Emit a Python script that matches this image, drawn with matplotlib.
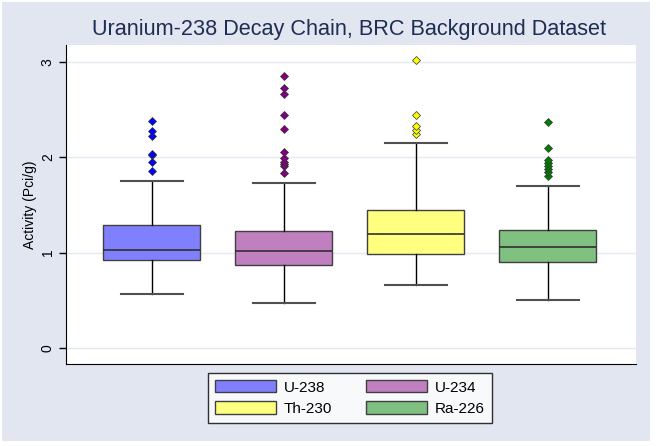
import matplotlib
matplotlib.use("Agg")
import matplotlib.pyplot as plt
from matplotlib.patches import Patch, Rectangle

plt.rcParams['font.family'] = ['Liberation Sans', 'DejaVu Sans']

# ---- data ----
isotopes = ["U-238", "U-234", "Th-230", "Ra-226"]
q1 = [0.92, 0.87, 0.99, 0.90]
medians = [1.03, 1.02, 1.20, 1.06]
q3 = [1.29, 1.23, 1.45, 1.24]
whisker_low = [0.57, 0.47, 0.66, 0.50]
whisker_high = [1.75, 1.73, 2.15, 1.70]
outliers = [
    [1.86, 1.95, 2.02, 2.04, 2.22, 2.28, 2.38],
    [1.84, 1.91, 1.93, 1.95, 1.99, 2.06, 2.30, 2.44, 2.67, 2.73, 2.85],
    [2.25, 2.29, 2.33, 2.44, 3.02],
    [1.80, 1.85, 1.88, 1.91, 1.94, 1.97, 2.10, 2.37],
]
y_ticks = [0, 1, 2, 3]

box_colors = ["#8080FF", "#C080C0", "#FFFF80", "#80C080"]
point_colors = ["#0000FF", "#800080", "#FFFF00", "#008000"]
bg = "#E1E6F0"

fig = plt.figure(figsize=(6.58, 4.46), dpi=100)
fig.patch.set_facecolor("white")
fig.patches.append(Rectangle((2 / 658, 1 - 441 / 446), 648 / 658, 439 / 446,
                             transform=fig.transFigure, facecolor=bg,
                             edgecolor="none", zorder=-10))

ax = fig.add_axes([66 / 658, 1 - 364 / 446, 570 / 658, 319 / 446])
ax.set_facecolor("white")

positions = list(range(1, len(isotopes) + 1))
stats = []
for i, name in enumerate(isotopes):
    stats.append(dict(label=name, med=medians[i], q1=q1[i], q3=q3[i],
                      whislo=whisker_low[i], whishi=whisker_high[i],
                      fliers=outliers[i]))

ax.set_axisbelow(True)
ax.yaxis.grid(True, color="#E4E8F0", linewidth=1.0)

for i in range(len(isotopes)):
    ax.bxp([stats[i]], positions=[positions[i]], widths=0.735,
           patch_artist=True, capwidths=0.47,
           boxprops=dict(facecolor=box_colors[i], edgecolor="#404040", linewidth=1.0),
           medianprops=dict(color="#303030", linewidth=1.2),
           whiskerprops=dict(color="black", linewidth=1.0),
           capprops=dict(color="#505050", linewidth=1.5),
           flierprops=dict(marker="D", markersize=4.0, markerfacecolor=point_colors[i],
                           markeredgecolor="#333333", markeredgewidth=0.5,
                           linestyle="none"))

ax.set_xlim(0.35, 4.667)
ax.set_ylim(-0.17, 3.18)
ax.set_xticks([])
ax.set_yticks(y_ticks)
ax.set_yticklabels([str(t) for t in y_ticks], rotation=90, va="center")
ax.tick_params(axis="y", length=5, width=1.0, color="black", labelsize=10, pad=3)
for s in ["top", "right"]:
    ax.spines[s].set_visible(False)
ax.spines["left"].set_color("black")
ax.spines["bottom"].set_color("black")
ax.set_ylabel("Activity (Pci/g)", fontsize=10, labelpad=2.5)

fig.text(0.5 * (90 + 608) / 658, 1 - 30 / 446,
         "Uranium-238 Decay Chain, BRC Background Dataset",
         ha="center", va="center", fontsize=15.6, color="#1E2D52")

order = [0, 2, 1, 3]
handles = [Patch(facecolor=box_colors[i], edgecolor="#404040", label=isotopes[i]) for i in order]
leg = fig.legend(handles=handles, ncol=2, loc="center",
                 bbox_to_anchor=(350 / 658, 1 - 398 / 446),
                 frameon=True, fancybox=False, edgecolor="black",
                 handlelength=4.0, handleheight=0.85, columnspacing=2.2,
                 labelspacing=0.45, borderpad=0.45, handletextpad=0.5,
                 prop={"size": 11})
leg.get_frame().set_linewidth(1.0)

fig.savefig("out.png", dpi=100, facecolor=fig.get_facecolor())
